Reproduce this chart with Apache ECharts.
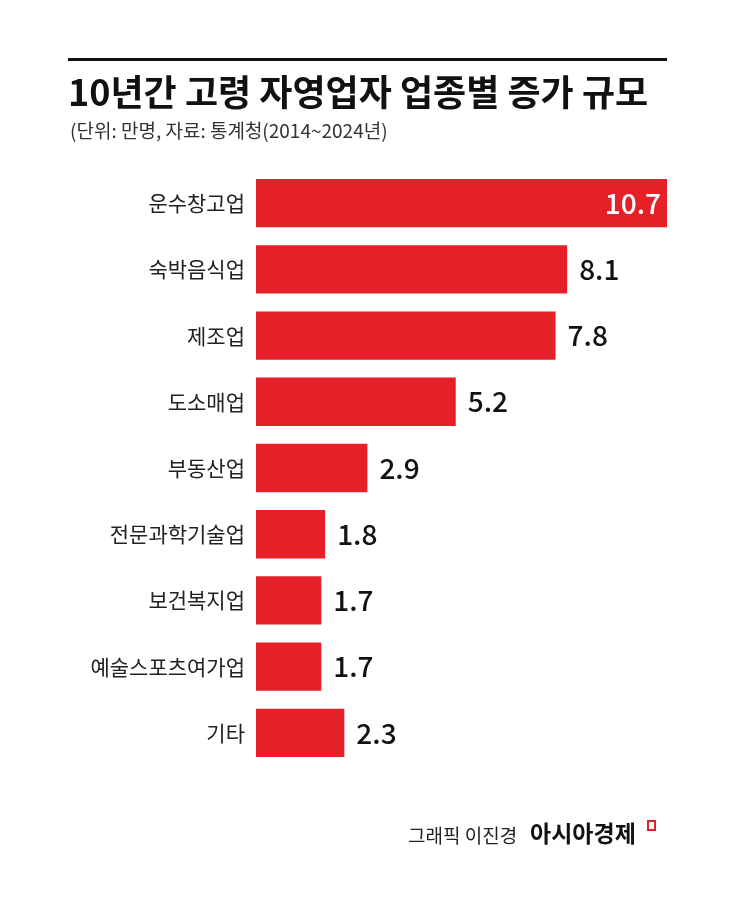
<!DOCTYPE html>
<html><head><meta charset="utf-8">
<script src="https://cdn.jsdelivr.net/npm/echarts@6/dist/echarts.min.js"></script>
<style>html,body{margin:0;padding:0;background:#fff}#c{width:745px;height:899px}</style>
</head><body><div id="c"></div>
<script>
const categories = ['운수창고업','숙박음식업','제조업','도소매업','부동산업','전문과학기술업','보건복지업','예술스포츠여가업','기타'];
const values = [10.7, 8.1, 7.8, 5.2, 2.9, 1.8, 1.7, 1.7, 2.3];
const font = '"Noto Sans CJK KR", sans-serif';

let chart = echarts.init(document.getElementById('c'));
chart.setOption({
  animation: false,
  graphic: [
    { type: 'rect', shape: { x: 68, y: 58, width: 599, height: 3 }, style: { fill: '#111' } },
    { type: 'text', left: 68, top: 74, style: { text: '10년간 고령 자영업자 업종별 증가 규모', font: 'bold 36px ' + font, fill: '#111' } },
    { type: 'text', left: 70, top: 121, style: { text: '(단위: 만명, 자료: 통계청(2014~2024년)', font: '19px ' + font, fill: '#333' } },
    { type: 'text', left: 408, top: 826, style: { text: '그래픽 이진경', font: '19px ' + font, fill: '#222' } },
    { type: 'text', left: 530, top: 822, style: { text: '아시아경제', font: 'bold 23px ' + font, fill: '#111' } },
    { type: 'rect', shape: { x: 648, y: 821, width: 7, height: 9 }, style: { fill: 'none', stroke: '#e2222a', lineWidth: 2 } }
  ],
  grid: { left: 256, right: 78, top: 170, bottom: 133 },
  xAxis: { type: 'value', min: 0, max: 10.7, show: false },
  yAxis: {
    type: 'category', data: categories, inverse: true,
    axisLine: { show: false }, axisTick: { show: false },
    axisLabel: { color: '#222', fontSize: 21, fontFamily: font, margin: 11 }
  },
  series: [{
    type: 'bar', data: values.map((v, i) => i === 0 ? {
      value: v, label: { position: 'insideRight', color: '#fff', distance: 6 }
    } : v),
    barCategoryGap: '27%',
    itemStyle: { color: '#e52028' },
    label: { show: true, position: 'right', distance: 12, color: '#111', fontSize: 28, fontFamily: font, fontWeight: 500 }
  }]
});
</script></body></html>
